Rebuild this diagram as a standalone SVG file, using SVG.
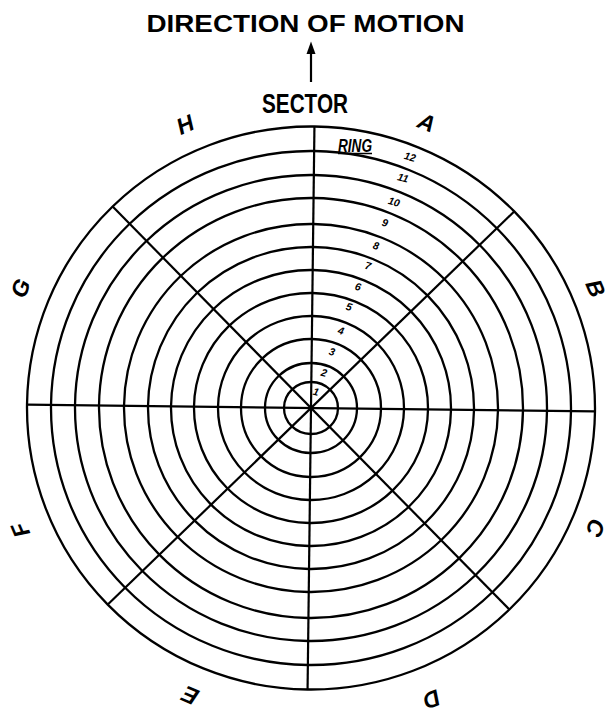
<svg xmlns="http://www.w3.org/2000/svg" width="611" height="714" viewBox="0 0 611 714">
<style>
.ring{fill:none;stroke:#000;stroke-width:2.3}
.ln{stroke:#000;stroke-width:2.2;fill:none}
.big{font-family:"Liberation Sans",Arial,sans-serif;font-weight:bold;fill:#000}
.sec{font-family:"Liberation Sans",Arial,sans-serif;font-weight:bold;font-style:italic;font-size:23px;fill:#000;text-anchor:middle}
.num{font-family:"Liberation Sans",Arial,sans-serif;font-weight:bold;font-style:italic;font-size:10.5px;fill:#000;text-anchor:middle}
</style>
<rect width="611" height="714" fill="#fff"/>
<g id="title">
<text class="big" x="146.5" y="31.5" font-size="23.5" textLength="318" lengthAdjust="spacingAndGlyphs">DIRECTION OF MOTION</text>
</g>
<g id="sector-title">
<text class="big" x="262" y="112.5" font-size="27" textLength="86" lengthAdjust="spacingAndGlyphs">SECTOR</text>
</g>
<g id="connectors">
<line class="ln" x1="311" y1="82" x2="311" y2="53" stroke-width="2.4"/>
<path d="M311 41.5 L315.5 54 L306.5 54 Z" fill="#000"/>
</g>
<g id="target" transform="rotate(0.7 311 408)">
<g id="rings">
<ellipse class="ring" cx="311" cy="408" rx="27" ry="26"/>
<ellipse class="ring" cx="311" cy="408" rx="46" ry="45"/>
<ellipse class="ring" cx="311" cy="408" rx="70" ry="69"/>
<ellipse class="ring" cx="311" cy="408" rx="93" ry="92"/>
<ellipse class="ring" cx="311" cy="408" rx="117" ry="115"/>
<ellipse class="ring" cx="311" cy="408" rx="140" ry="138"/>
<ellipse class="ring" cx="311" cy="408" rx="163" ry="161"/>
<ellipse class="ring" cx="311" cy="408" rx="187" ry="184"/>
<ellipse class="ring" cx="311" cy="408" rx="212" ry="210"/>
<ellipse class="ring" cx="311" cy="408" rx="236" ry="233"/>
<ellipse class="ring" cx="311" cy="408" rx="260" ry="257"/>
<ellipse class="ring" cx="311" cy="408" rx="284" ry="281.5"/>
</g>
<g id="sector-lines">
<line class="ln" x1="311" y1="126.5" x2="311" y2="689.5"/>
<line class="ln" x1="27" y1="408" x2="595" y2="408"/>
<line class="ln" x1="110.2" y1="209" x2="511.8" y2="607"/>
<line class="ln" x1="511.8" y1="209" x2="110.2" y2="607"/>
</g>
</g>
<g id="sector-labels">
<text class="sec" transform="translate(185 124) rotate(-24)" y="8.5">H</text>
<text class="sec" transform="translate(427 122) rotate(22)" y="8.5">A</text>
<text class="sec" transform="translate(596 288) rotate(67)" y="8.5">B</text>
<text class="sec" transform="translate(596 528) rotate(112)" y="8.5">C</text>
<text class="sec" transform="translate(432 700) rotate(158)" y="8.5">D</text>
<text class="sec" transform="translate(190 696) rotate(-157)" y="8.5">E</text>
<text class="sec" transform="translate(20 530) rotate(-113)" y="8.5">F</text>
<text class="sec" transform="translate(20 288) rotate(-68)" y="8.5">G</text>
</g>
<g id="ring-labels">
<text class="big" x="338" y="152" font-size="18" font-style="italic" textLength="34" lengthAdjust="spacingAndGlyphs">RING</text>
<line x1="338" y1="153.5" x2="372" y2="153.5" stroke="#000" stroke-width="1.5"/>
<text class="num" transform="translate(410 157) rotate(15)" y="3.5">12</text>
<text class="num" transform="translate(403 178) rotate(15)" y="3.5">11</text>
<text class="num" transform="translate(394 202) rotate(15)" y="3.5">10</text>
<text class="num" transform="translate(385 223) rotate(15)" y="3.5">9</text>
<text class="num" transform="translate(376 246) rotate(15)" y="3.5">8</text>
<text class="num" transform="translate(368 266) rotate(15)" y="3.5">7</text>
<text class="num" transform="translate(358 287) rotate(15)" y="3.5">6</text>
<text class="num" transform="translate(349 307) rotate(15)" y="3.5">5</text>
<text class="num" transform="translate(341 331) rotate(15)" y="3.5">4</text>
<text class="num" transform="translate(332 352) rotate(15)" y="3.5">3</text>
<text class="num" transform="translate(324 373) rotate(15)" y="3.5">2</text>
<text class="num" transform="translate(316 392) rotate(15)" y="3.5">1</text>
</g>
</svg>
